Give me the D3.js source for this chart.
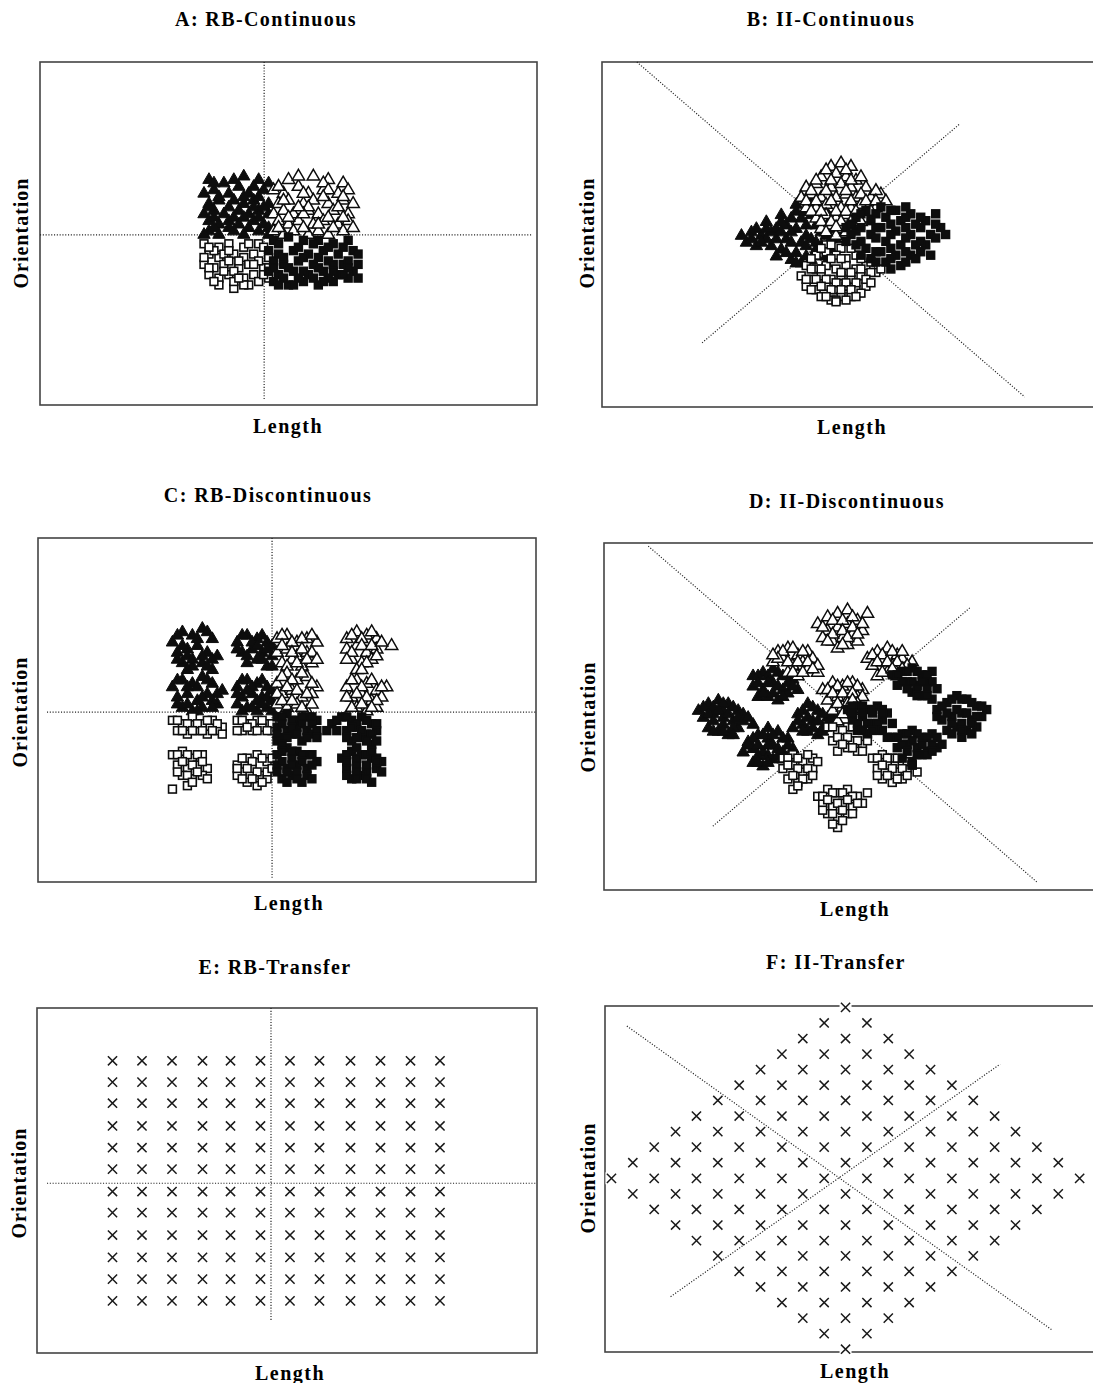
<!DOCTYPE html>
<html><head><meta charset="utf-8">
<script src="https://cdn.jsdelivr.net/npm/d3@7"></script>
<style>body{margin:0;background:#fff}</style>
</head><body><svg id="c" width="1093" height="1383"></svg>
<script>
// ---------- DATA (stimulus space, 0-100 on each axis) ----------
const titles = ["A: RB-Continuous","B: II-Continuous","C: RB-Discontinuous","D: II-Discontinuous","E: RB-Transfer","F: II-Transfer"];
const xLabel = "Length";
const yLabel = "Orientation";

// Panel A
const aFilledTri = [[34,66],[37,65],[41,67],[44,66],[46,65],[33,62],[35,63],[38,62],[40,64],[42,62],[45,63],[34,59],[36,60],[39,60],[41,59],[43,60],[46,59],[33,56],[35,57],[37,56],[40,57],[42,56],[44,57],[46,56],[34,54],[36,53],[38,54],[40,53],[43,54],[45,53],[34,51],[36,50],[39,51],[41,50],[44,51],[46,50],
  [35,65],[39,66],[43,64],[36,61],[41,61],[44,61],[34,58],[38,58],[43,58],[45,58],[35,55],[39,55],[41,55],[44,55],[35,52],[38,52],[42,52],[46,52],[33,50]];
const aOpenTri = [[50,66],[55,67],[58,66],[61,65],[47,63],[49,62],[52,64],[54,62],[57,63],[60,62],[62,63],[48,59],[50,60],[53,59],[55,60],[58,59],[61,60],[63,59],[47,56],[49,57],[51,56],[54,57],[56,56],[59,57],[62,56],[48,54],[50,53],[52,54],[55,53],[57,54],[60,53],[62,54],[47,51],[49,50],[51,51],[54,50],[56,51],[58,50],[61,51],
  [52,67],[57,65],[48,64],[53,62],[58,63],[61,61],[49,60],[54,58],[57,61],[60,58],[50,55],[53,56],[58,55],[61,55],[48,52],[53,52],[56,53],[59,52],[63,52],[52,58]];
const aOpenSq = [[33,47],[36,46],[38,47],[41,46],[44,47],[34,44],[36,43],[39,44],[41,43],[43,44],[46,43],[33,41],[35,40],[37,41],[40,40],[42,41],[45,40],[34,38],[36,37],[38,38],[41,37],[43,38],[46,37],[36,35],[39,34],[42,35],[44,36],[35,45],[40,42],[37,39],[44,42],[39,36],
  [34,46],[37,44],[42,47],[45,46],[38,42],[43,41],[34,40],[39,39],[45,38],[35,36],[41,35],[38,45],[33,43],[40,37],[46,40]];
const aFilledSq = [[47,48],[50,49],[53,48],[56,48],[59,47],[62,48],[46,45],[48,44],[51,45],[54,44],[57,45],[60,44],[63,45],[47,42],[49,41],[52,42],[55,41],[58,42],[61,41],[46,39],[48,38],[51,39],[54,38],[57,39],[60,38],[63,39],[47,36],[50,35],[53,36],[56,35],[59,36],[62,37],[64,37],
  [48,47],[52,46],[55,47],[58,46],[61,46],[64,44],[49,43],[53,43],[56,43],[59,41],[62,42],[47,40],[50,40],[53,39],[56,40],[59,39],[62,40],[49,37],[52,37],[55,37],[58,37],[61,38],[48,35],[51,35],[64,41],[57,36]];
const aBounds = [[[45.1,100],[45.1,1.5]],[[0,49.6],[99,49.6]]];

// Panel B
const bOpenTri = [[46,70],[48,71],[50,70],[44,67],[47,68],[49,67],[51,66],[41,64],[43,65],[46,64],[48,65],[50,64],[53,64],[40,61],[42,62],[44,61],[47,61],[49,62],[51,61],[54,61],[56,62],[41,58],[43,58],[45,59],[48,58],[50,58],[52,59],[55,58],[43,55],[45,56],[47,55],[49,56],[51,55],[53,55],[44,52],[46,53],[48,52],[50,53],[47,50],
  [45,69],[49,69],[43,66],[46,66],[50,66],[52,67],[42,63],[45,63],[49,63],[52,62],[55,63],[41,60],[43,60],[46,60],[50,60],[53,60],[55,60],[57,60],[42,57],[44,57],[47,57],[49,57],[51,57],[54,57],[44,54],[46,54],[48,54],[50,54],[52,54],[45,51],[49,51],[47,52.5]];
const bFilledTri = [[28,50],[29,48],[31,52],[31,47],[32,50],[33,54],[34,51],[34,47],[35,44],[33,49],[36,56],[37,53],[37,49],[36,46],[38,43],[39,59],[40,55],[39,52],[40,48],[39,45],[40,42],[42,60],[42,56],[43,53],[42,49],[43,46],[42,43],[45,57],[44,54],[45,50],[44,47],[45,44],[47,53],[47,49],
  [30,51],[30,49],[32,48],[33,52],[35,52],[35,49],[36,54],[36,51],[38,55],[38,51],[38,48],[37,45],[39,57],[41,57],[41,53],[41,50],[41,47],[41,44],[43,59],[44,56],[44,51],[43,48],[43,44],[46,55],[46,52],[46,49],[46,46],[45,42],[48,51],[39,42],[40,61]];
const bFilledSq = [[49,52],[49,48],[51,55],[51,51],[51,47],[53,57],[54,54],[54,50],[53,46],[54,43],[56,58],[57,55],[56,52],[57,48],[56,45],[57,42],[59,57],[60,54],[59,51],[60,47],[59,44],[60,41],[62,56],[63,53],[62,50],[63,47],[62,44],[65,54],[66,50],[65,47],[68,52],
  [50,53],[50,50],[52,56],[52,52],[52,48],[52,44],[55,56],[55,52],[55,49],[55,45],[55,42],[58,57],[58,53],[58,50],[58,46],[58,43],[58,40],[61,58],[61,55],[61,52],[61,49],[61,45],[61,42],[64,55],[64,52],[64,48],[64,45],[67,53],[67,49],[66,44],[69,50],[67,56],[63,43]];
const bOpenSq = [[45,47],[48,46],[43,44],[45,45],[47,44],[49,43],[51,44],[41,41],[43,40],[45,41],[47,40],[49,41],[51,40],[53,41],[40,38],[42,37],[44,38],[46,37],[48,38],[50,37],[52,38],[55,39],[41,35],[43,34],[45,35],[47,34],[49,35],[51,34],[53,35],[44,32],[46,31],[48,32],[50,32],
  [46,47],[44,46],[50,46],[42,43],[46,43],[48,43],[52,43],[54,42],[42,40],[44,40],[48,39],[50,39],[52,40],[54,39],[56,40],[41,37],[43,37],[45,37],[47,36],[49,36],[51,36],[53,37],[42,34],[44,35],[46,34],[48,34],[50,34],[52,33],[54,36],[45,32],[47,31],[49,31],[51,32],[47,30.5]];
const bBounds = [[[7.0,100],[84.9,2.9]],[[20.1,18.6],[71.8,82.0]]];

// Panel C
const cFilledTri = [[27,70],[29,73],[31,72],[33,74],[35,71],[28,67],[30,68],[32,69],[34,67],[36,66],[29,64],[31,63],[33,64],[35,62],[30,66],
  [28,72],[32,71],[34,73],[29,69],[33,66],[35,65],[31,65],[30,62],[34,63],[28,65],
  [27,57],[29,59],[31,58],[33,60],[35,58],[37,56],[28,54],[30,55],[32,53],[34,55],[36,52],[29,51],[31,50],[33,51],
  [28,59],[30,57],[32,57],[34,59],[36,55],[28,52],[30,52],[33,54],[35,53],[32,50],[35,51],
  [40,70],[42,72],[44,71],[46,70],[41,67],[43,68],[45,67],[47,66],[42,64],[44,65],[46,63],
  [41,72],[43,70],[45,72],[47,69],[40,68],[44,69],[46,68],[42,66],[45,65],[47,63],
  [40,57],[42,59],[44,58],[46,57],[41,54],[43,55],[45,54],[47,53],[42,51],[44,50],[46,51],[40,52],
  [41,59],[43,57],[45,59],[47,56],[40,55],[42,56],[44,53],[46,54],[41,50],[43,51],[45,52],[47,50]];
const cOpenTri = [[48,71],[50,72],[52,70],[54,71],[56,70],[48,67],[50,68],[52,66],[54,67],[49,64],[51,65],[53,63],[55,64],
  [49,72],[51,70],[53,71],[55,72],[49,69],[51,67],[53,68],[55,67],[50,63],[52,64],[54,65],[56,65],
  [48,58],[50,61],[52,59],[54,60],[56,57],[49,55],[51,56],[53,54],[55,55],[48,52],[50,51],[52,52],[54,50],
  [49,60],[51,59],[53,61],[55,58],[48,55],[50,57],[52,56],[54,55],[49,53],[51,53],[53,51],[55,52],
  [62,71],[64,73],[66,72],[68,71],[62,68],[64,69],[66,67],[68,68],[63,65],[65,64],[67,65],[71,69],[64,62],
  [63,72],[65,71],[67,73],[63,67],[65,69],[67,69],[69,70],[62,65],[66,64],[68,66],[65,62],
  [62,57],[64,59],[66,58],[68,56],[70,57],[63,54],[65,55],[67,53],[69,54],[64,51],[66,50],[68,51],
  [63,59],[65,57],[67,59],[69,57],[62,54],[64,55],[66,54],[68,53],[63,51],[65,52],[67,51]];
const cOpenSq = [[27,47],[29,46],[31,48],[33,46],[35,47],[37,45],[28,44],[30,43],[32,44],[34,43],[36,44],
  [28,47],[30,46],[32,46],[34,47],[36,46],[29,44],[31,44],[33,44],[35,44],[37,43],
  [27,37],[29,38],[31,36],[33,37],[28,34],[30,33],[32,34],[34,33],[29,31],[31,30],[33,31],[30,28],[27,27],
  [28,37],[30,37],[32,37],[29,35],[31,34],[33,35],[28,32],[30,31],[32,32],[34,30],[31,29],
  [40,47],[42,46],[44,47],[46,46],[41,44],[43,44],[45,45],[47,44],
  [41,47],[43,46],[45,47],[47,46],[40,44],[42,45],[44,44],[46,44],
  [40,34],[42,36],[44,37],[46,35],[41,32],[43,33],[45,31],[42,29],[44,28],[46,30],[40,31],
  [41,36],[43,35],[45,36],[47,36],[40,33],[42,33],[44,32],[46,32],[41,30],[43,30],[45,29],[47,33]];
const cFilledSq = [[48,48],[50,49],[52,47],[54,48],[56,47],[48,45],[50,44],[52,45],[54,44],[49,42],[51,43],[53,41],[55,43],
  [49,48],[51,47],[53,48],[55,48],[49,46],[51,45],[53,46],[55,46],[56,44],[48,43],[50,42],[52,43],[54,42],[56,42],[48,41],
  [48,37],[50,39],[52,38],[54,37],[48,34],[50,33],[52,34],[54,33],[56,35],[49,30],[51,31],[53,29],[49,40],[51,36],
  [49,38],[51,38],[53,37],[55,37],[49,35],[51,34],[53,35],[55,34],[48,32],[50,32],[52,32],[54,31],[50,29],[55,30],[52,30],
  [59,46],[61,48],[63,47],[65,48],[67,46],[62,44],[64,45],[66,43],[68,44],[63,41],[65,42],[67,40],
  [60,47],[62,48],[64,46],[66,47],[68,46],[60,44],[63,45],[65,44],[67,43],[62,42],[64,42],[66,41],[68,41],[58,44],
  [61,36],[63,38],[65,37],[67,36],[69,35],[62,33],[64,34],[66,32],[68,33],[63,30],[65,31],[67,29],[64,39],
  [62,37],[64,36],[66,37],[68,36],[62,35],[64,32],[66,34],[68,35],[62,31],[64,30],[66,30],[69,32],[67,38]];
const cBounds = [[[47,100],[47,1.2]],[[1.8,49.4],[100,49.4]]];

// Panel D
const dOpenTri = [[43,77],[45,79],[47,80],[49,81],[45,75],[47,76],[49,77],[51,78],[53,80],[44,73],[46,72],[48,73],[50,74],[52,75],[47,70],[49,71],[51,72],
  [44,76],[46,78],[48,78],[50,79],[46,74],[48,75],[50,76],[52,77],[45,72],[49,73],[51,74],[48,71],
  [35,69],[37,70],[39,68],[41,69],[34,66],[36,67],[38,65],[40,66],[42,67],[37,63],[39,62],[41,64],[43,63],
  [36,69],[38,70],[40,69],[35,67],[37,66],[39,66],[41,66],[43,65],[38,63],[40,63],[42,64],[34,68],
  [53,67],[55,69],[57,70],[59,68],[54,65],[56,66],[58,65],[60,67],[62,66],[55,62],[57,63],[59,62],
  [54,68],[56,68],[58,69],[60,69],[55,66],[57,66],[59,66],[61,65],[56,63],[58,64],[60,64],
  [44,58],[46,60],[48,59],[50,60],[52,58],[45,55],[47,56],[49,55],[51,56],[46,52],[48,53],[50,52],[47,49],
  [45,58],[47,59],[49,60],[51,59],[46,57],[48,57],[50,57],[52,56],[47,54],[49,54],[51,54],[48,51],[50,55]];
const dFilledTri = [[30,62],[32,63],[34,64],[36,62],[30,59],[32,58],[34,60],[36,58],[38,61],[31,56],[33,56],[35,55],[37,57],[39,58],
  [31,62],[33,62],[35,63],[37,62],[31,60],[33,60],[35,59],[37,60],[32,57],[34,57],[36,56],[38,59],
  [19,52],[21,54],[23,55],[25,54],[27,52],[20,50],[22,51],[24,50],[26,49],[28,51],[30,48],[21,47],[23,46],[25,45],[27,47],[24,52],
  [20,53],[22,53],[24,54],[26,53],[21,51],[23,52],[25,51],[27,50],[22,49],[24,48],[26,47],[28,49],[22,46],[24,46],[26,45],[29,50],
  [39,51],[41,54],[43,52],[45,50],[40,48],[42,49],[44,47],[46,48],[41,46],[43,45],[38,47],
  [40,52],[42,53],[44,51],[46,50],[39,49],[41,50],[43,49],[45,48],[42,47],[44,46],[40,46],
  [29,43],[31,45],[33,44],[35,46],[37,44],[28,40],[30,41],[32,40],[34,42],[36,40],[30,37],[32,36],[34,38],[38,41],[33,47],
  [30,44],[32,45],[34,45],[36,44],[29,42],[31,42],[33,42],[35,41],[31,39],[33,39],[35,39],[37,42],[31,37],[33,37],[36,38]];
const dFilledSq = [[58,62],[60,63],[62,64],[64,62],[66,63],[59,59],[61,60],[63,59],[65,60],[67,58],[62,57],[64,56],[66,55],
  [59,62],[61,63],[63,63],[65,62],[60,60],[62,60],[64,60],[66,60],[61,58],[63,58],[65,58],[63,56],[65,56],
  [49,52],[51,53],[53,52],[55,53],[57,51],[50,49],[52,50],[54,48],[56,49],[51,46],[53,45],[55,46],[57,44],
  [50,53],[52,53],[54,52],[56,52],[50,51],[52,51],[54,51],[56,51],[51,48],[53,48],[55,48],[52,46],[54,46],[56,46],[58,48],
  [67,52],[69,54],[71,56],[73,55],[75,53],[77,52],[68,49],[70,50],[72,51],[74,49],[76,50],[69,46],[71,47],[73,46],[75,47],[72,44],
  [68,53],[70,55],[72,55],[74,54],[76,53],[67,50],[69,51],[71,52],[73,51],[75,50],[70,48],[72,48],[74,48],[70,45],[74,45],[72,46],
  [58,44],[60,45],[62,46],[64,44],[66,45],[59,41],[61,42],[63,41],[65,40],[67,41],[60,38],[62,37],[64,39],[68,42],
  [59,44],[61,45],[63,45],[65,44],[67,44],[60,42],[62,43],[64,42],[66,42],[61,40],[63,39],[65,39],[62,36],[66,40]];
const dOpenSq = [[45,47],[47,46],[49,47],[51,46],[53,45],[46,43],[48,44],[50,43],[52,42],[47,40],[49,41],[51,40],
  [46,47],[48,46],[50,47],[52,46],[47,44],[49,44],[51,43],[53,43],[48,42],[50,41],[52,40],
  [36,38],[38,39],[40,37],[42,38],[36,35],[38,36],[40,34],[42,35],[37,32],[39,31],[41,32],[38,29],
  [37,38],[39,38],[41,39],[43,37],[37,36],[39,35],[41,35],[38,33],[40,32],[42,33],[39,30],
  [54,38],[56,39],[58,38],[60,37],[55,35],[57,36],[59,34],[61,35],[63,34],[56,32],[58,31],[60,32],
  [55,38],[57,38],[59,38],[61,37],[56,36],[58,35],[60,35],[62,36],[55,33],[57,33],[59,32],[61,33],
  [43,27],[45,29],[47,28],[49,29],[51,27],[44,25],[46,24],[48,25],[50,24],[52,25],[45,22],[47,21],[49,22],[47,18],[53,28],
  [44,27],[46,28],[48,28],[50,27],[45,26],[47,25],[49,26],[51,25],[44,23],[46,22],[48,23],[50,22],[48,20],[46,19]];
const dBounds = [[[8.9,99.1],[87.1,2.3]],[[21.9,18.4],[73.6,81.3]]];

// Panel E: transfer grid levels
const eLevelsX = [15.1,21.0,27.0,33.1,38.7,44.7,50.6,56.5,62.7,68.7,74.7,80.6];
const eLevelsY = [15.1,21.4,27.7,34.2,40.7,46.8,53.3,59.5,65.8,72.4,78.5,84.7];
const eBounds = [[[46.8,100],[46.8,9.6]],[[2,49.2],[100,49.2]]];

// Panel F: transfer stimuli, row by row (orientation value, length values)
const fRowY = [99.6,95.1,90.6,86.1,81.6,77.1,72.7,68.2,63.7,59.2,54.7,50.2,45.7,41.2,36.7,32.2,27.8,23.3,18.8,14.3,9.8,5.3,0.8];
const fRowX = [
  [48.4],
  [44.1,52.7],
  [39.8,48.4,57.0],
  [35.6,44.1,52.7,61.2],
  [31.3,39.8,48.4,57.0,65.5],
  [27.0,35.6,44.1,52.7,61.2,69.8],
  [22.7,31.3,39.8,48.4,57.0,65.5,74.1],
  [18.4,27.0,35.6,44.1,52.7,61.2,69.8,78.4],
  [14.2,22.7,31.3,39.8,48.4,57.0,65.5,74.1,82.6],
  [9.9,18.4,27.0,35.6,44.1,52.7,61.2,69.8,78.4,86.9],
  [5.6,14.2,22.7,31.3,39.8,48.4,57.0,65.5,74.1,82.6,91.2],
  [1.3,9.9,18.4,27.0,35.6,44.1,52.7,61.2,69.8,78.4,86.9,95.5],
  [5.6,14.2,22.7,31.3,39.8,48.4,57.0,65.5,74.1,82.6,91.2],
  [9.9,18.4,27.0,35.6,44.1,52.7,61.2,69.8,78.4,86.9],
  [14.2,22.7,31.3,39.8,48.4,57.0,65.5,74.1,82.6],
  [18.4,27.0,35.6,44.1,52.7,61.2,69.8,78.4],
  [22.7,31.3,39.8,48.4,57.0,65.5,74.1],
  [27.0,35.6,44.1,52.7,61.2,69.8],
  [31.3,39.8,48.4,57.0,65.5],
  [35.6,44.1,52.7,61.2],
  [39.8,48.4,57.0],
  [44.1,52.7],
  [48.4]
];
const fBounds = [[[4.4,94.2],[89.9,6.4]],[[13.2,16.0],[79.5,83.2]]];

// ---------- DRAWING ----------
const svg = d3.select("#c");
const FONT = "'Liberation Serif','Times New Roman',Times,serif";
const INK = "#0d0d0d";

const eGrid = [];
eLevelsY.forEach(yv => eLevelsX.forEach(xv => eGrid.push([xv, yv])));
const fGrid = [];
fRowY.forEach((yv, i) => fRowX[i].forEach(xv => fGrid.push([xv, yv])));

const panels = [
  {left:40, top:62, w:497, h:343, t:[266,26], xl:[288,433], yl:[28,233], bounds:aBounds,
   sets:[["ft",aFilledTri],["ot",aOpenTri],["os",aOpenSq],["fs",aFilledSq]]},
  {left:602, top:62, w:498, h:345, t:[831,26], xl:[852,434], yl:[594,233], bounds:bBounds,
   sets:[["ft",bFilledTri],["ot",bOpenTri],["os",bOpenSq],["fs",bFilledSq]]},
  {left:38, top:538, w:498, h:344, t:[268,502], xl:[289,910], yl:[27,712], bounds:cBounds,
   sets:[["ft",cFilledTri],["ot",cOpenTri],["os",cOpenSq],["fs",cFilledSq]]},
  {left:604, top:543, w:497, h:347, t:[847,508], xl:[855,916], yl:[595,717], bounds:dBounds,
   sets:[["ft",dFilledTri],["ot",dOpenTri],["os",dOpenSq],["fs",dFilledSq]]},
  {left:37, top:1008, w:500, h:345, t:[275,974], xl:[290,1380], yl:[26,1183], bounds:eBounds,
   sets:[["x",eGrid]]},
  {left:605, top:1006, w:497, h:346, t:[836,969], xl:[855,1378], yl:[595,1178], bounds:fBounds,
   sets:[["x",fGrid]]}
];

const triPath = "M0,-5.9L6.2,4.8L-6.2,4.8Z";

panels.forEach((p, i) => {
  const g = svg.append("g");
  const x = d3.scaleLinear().domain([0,100]).range([p.left, p.left + p.w]);
  const y = d3.scaleLinear().domain([0,100]).range([p.top + p.h, p.top]);

  g.append("rect")
    .attr("x", x(0)).attr("y", y(100))
    .attr("width", x(100) - x(0)).attr("height", y(0) - y(100))
    .attr("fill", "none").attr("stroke", "#444").attr("stroke-width", 1.6);

  // white halos behind transfer crosses (they cut the frame)
  p.sets.filter(s => s[0] === "x").forEach(s => {
    g.selectAll(null).data(s[1]).join("rect")
      .attr("x", d => x(d[0]) - 6).attr("y", d => y(d[1]) - 6)
      .attr("width", 12).attr("height", 12).attr("fill", "#fff");
  });

  g.selectAll(null).data(p.bounds).join("line")
    .attr("x1", d => x(d[0][0])).attr("y1", d => y(d[0][1]))
    .attr("x2", d => x(d[1][0])).attr("y2", d => y(d[1][1]))
    .attr("stroke", "#222").attr("stroke-width", 1.2).attr("stroke-dasharray", "1.1,1.7");

  p.sets.forEach(([type, data]) => {
    const sel = g.selectAll(null).data(data).join("g")
      .attr("transform", d => `translate(${x(d[0])},${y(d[1])})`);
    if (type === "ft" || type === "ot") {
      sel.append("path").attr("d", triPath)
        .attr("fill", type === "ft" ? INK : "#fff")
        .attr("stroke", INK).attr("stroke-width", type === "ft" ? 1 : 1.5)
        .attr("stroke-linejoin", "miter");
    } else if (type === "os" || type === "fs") {
      sel.append("rect").attr("x", -3.9).attr("y", -3.9).attr("width", 7.8).attr("height", 7.8)
        .attr("fill", type === "fs" ? INK : "#fff")
        .attr("stroke", INK).attr("stroke-width", 1.6);
    } else {
      sel.append("path").attr("d", "M-4.6,-4.6L4.6,4.6M-4.6,4.6L4.6,-4.6")
        .attr("stroke", "#1a1a1a").attr("stroke-width", 1.5).attr("fill", "none");
    }
  });

  svg.append("text").attr("x", p.t[0]).attr("y", p.t[1])
    .attr("text-anchor", "middle").attr("font-family", FONT).attr("font-weight", "bold")
    .attr("font-size", 20).attr("letter-spacing", 1.4).attr("fill", "#000").text(titles[i]);
  svg.append("text").attr("x", p.xl[0]).attr("y", p.xl[1])
    .attr("text-anchor", "middle").attr("font-family", FONT).attr("font-weight", "bold")
    .attr("font-size", 20).attr("letter-spacing", 1.5).attr("fill", "#000").text(xLabel);
  svg.append("text").attr("transform", `translate(${p.yl[0]},${p.yl[1]}) rotate(-90)`)
    .attr("text-anchor", "middle").attr("font-family", FONT).attr("font-weight", "bold")
    .attr("font-size", 20).attr("letter-spacing", 1).attr("fill", "#000").text(yLabel);
});
</script>
</body></html>
